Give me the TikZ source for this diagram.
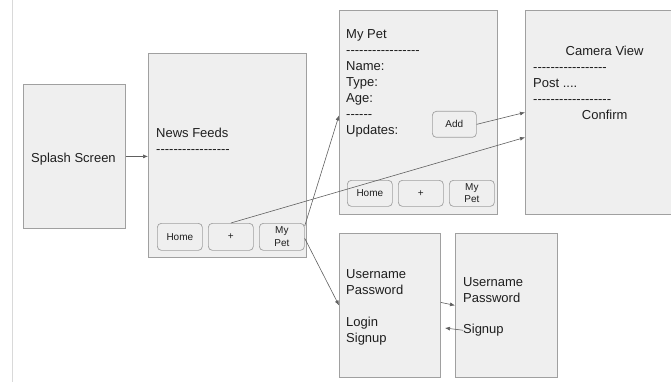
\documentclass[tikz,border=0pt]{standalone}
\usepackage{fontspec}
\setmainfont{Liberation Sans}[Ligatures=TeXOff]
\usetikzlibrary{arrows.meta}

\definecolor{boxfill}{HTML}{EFEFEF}
\definecolor{boxline}{HTML}{A0A0A0}
\definecolor{linkcol}{HTML}{606060}
\definecolor{txtcol}{HTML}{1E1E1E}

\tikzset{
  screen/.style={draw=boxline, fill=boxfill, line width=0.8pt, anchor=north west, inner sep=0pt},
  btn/.style={draw=boxline, fill=boxfill, line width=0.7pt, rounded corners=4pt, anchor=north west,
    inner sep=0pt, minimum width=45pt, minimum height=27pt, align=center, text=txtcol,
    font=\fontsize{10}{12.5}\selectfont},
  txt/.style={anchor=north west, inner sep=0pt, align=left, text=txtcol, font=\fontsize{13}{16}\selectfont},
  link/.style={draw=linkcol, line width=0.6pt, -{Latex[length=5pt,width=4pt]}}
}

\begin{document}
\begin{tikzpicture}[x=1pt, y=-1pt]

\clip (0,0) rectangle (671,382);
\draw[line width=0.8pt, black!15] (12,0) -- (12,382);

\node[screen, minimum width=102pt, minimum height=144pt] (splash) at (23,84) {};
\node[screen, minimum width=158pt, minimum height=204pt] (news) at (148,53) {};
\node[screen, minimum width=158pt, minimum height=204pt] (pet) at (339,10) {};
\node[screen, minimum width=158pt, minimum height=204pt] (cam) at (525,10) {};
\node[screen, minimum width=101pt, minimum height=144pt] (login) at (339,233) {};
\node[screen, minimum width=102pt, minimum height=144pt] (signup) at (455,233) {};

\node[txt] (splashtxt) at (31,152.5) {Splash Screen};
\node[txt] (newstxt) at (156,128) {News Feeds\\-----------------};
\node[txt] (pettxt) at (346,29) {My Pet\\-----------------\\Name:\\Type:\\Age:\\------\\Updates:};
\node[txt] (camtxt) at (533,46) {\hspace*{32.5pt}Camera View\\-----------------\\Post ....\\------------------\\\hspace*{48.75pt}Confirm};
\node[txt] (logintxt) at (346,269.5) {Username\\Password\\[16pt]Login\\Signup};
\node[txt] (signuptxt) at (463,277) {Username\\Password};
\node[txt] (sgsignup) at (463,324) {Signup};

\node[btn] (nfhome) at (157,223) {Home};
\node[btn] (nfplus) at (208,223) {+};
\node[btn] (nfpet) at (259,223) {My\\Pet};

\node[btn, minimum width=44pt, minimum height=26pt] (add) at (432,111) {Add};
\node[btn, minimum height=26pt] (pthome) at (347,180) {Home};
\node[btn, minimum height=26pt] (ptplus) at (398,180) {+};
\node[btn, minimum height=26pt] (ptpet) at (449,180) {My\\Pet};

\coordinate (back) at (445,328);

\draw[link] (splash.east) -- (splash.east -| news.west);
\draw[link] ([yshift=-3pt]nfpet.north east) -- ([yshift=-3pt]pet.west);
\draw[link] (nfplus.north) -- ([yshift=-25pt]cam.west);
\draw[link] (add.east) -- (cam.west);
\draw[link] ([yshift=-1.5pt]nfpet.east) -- (login.west);
\draw[link] ([yshift=3pt]login.east) -- (signup.west);
\draw[link] (sgsignup.west) -- (back);

\end{tikzpicture}
\end{document}
